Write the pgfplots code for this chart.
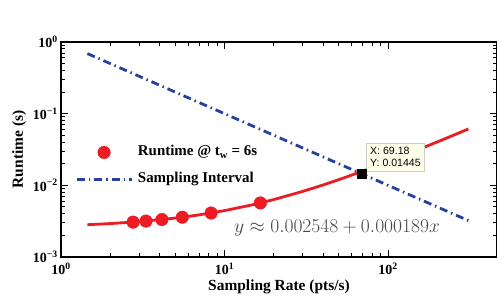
\RequirePackage{fix-cm}
\documentclass[border=0pt]{standalone}
\usepackage{pgfplots}
\pgfplotsset{compat=1.18}
\usepackage{fontspec}
\setmainfont{Liberation Serif}
\newfontfamily\tipfont{Liberation Sans}
\definecolor{myred}{RGB}{237,28,36}
\definecolor{myblue}{RGB}{38,64,160}
\definecolor{tipfill}{RGB}{255,255,234}
\definecolor{tipdraw}{RGB}{205,205,195}
\begin{document}
\begin{tikzpicture}
\path[use as bounding box] (-61bp,-42bp) rectangle (436bp,257bp);
\begin{axis}[
  at={(0,0)}, anchor=south west,
  scale only axis, width=436bp, height=215bp,
  xmode=log, ymode=log,
  xmin=1, xmax=464, ymin=1e-3, ymax=1,
  xtick={1,10,100},
  xticklabels={10\textsuperscript{0},10\textsuperscript{1},10\textsuperscript{2}},
  ytick={0.001,0.01,0.1,1},
  yticklabels={10\textsuperscript{−3},10\textsuperscript{−2},10\textsuperscript{−1},10\textsuperscript{0}},
  minor xtick={2,3,4,5,6,7,8,9,20,30,40,50,60,70,80,90},
  minor ytick={0.002,0.003,0.004,0.005,0.006,0.007,0.008,0.009,0.02,0.03,0.04,0.05,0.06,0.07,0.08,0.09,0.2,0.3,0.4,0.5,0.6,0.7,0.8,0.9},
  tick align=inside,
  major tick length=7bp, minor tick length=4bp,
  axis line style={line width=1.2bp},
  every tick/.style={black, line width=0.9bp},
  ticklabel style={font=\fontsize{14}{16}\selectfont\bfseries},
  xticklabel style={inner sep=0pt, anchor=north, yshift=-6bp},
  yticklabel style={inner sep=0pt, anchor=east, xshift=-3bp},
  xlabel={Sampling Rate (pts/s)},
  ylabel={Runtime (s)},
  label style={font=\fontsize{15.5}{18}\selectfont\bfseries},
  xlabel style={at={(axis description cs:0.5,-0.1535)}, anchor=base, inner sep=0pt},
  ylabel style={at={(axis description cs:-0.0872,0.5)}, anchor=base, inner sep=0pt},
  legend cell align=left,
  legend image code/.code={\draw[mark repeat=2,mark phase=2,#1] plot coordinates {(0bp,0bp) (27.5bp,0bp) (55bp,0bp)};},
  legend style={at={(axis description cs:0.032,0.4235)}, anchor=west, draw=none, fill=none,
    font=\fontsize{15}{18}\selectfont\bfseries, inner sep=0pt, row sep=10bp, column sep=3bp,
    nodes={inner sep=2bp, text height=10bp, text depth=3bp}},
]
\addplot[myred, line width=2.8bp, forget plot] coordinates {
(1.45,0.002822) (2,0.002926) (3,0.003115) (5,0.003493) (7,0.003871) (10,0.004438)
(15,0.005383) (20,0.006328) (30,0.008218) (40,0.010108) (50,0.011998) (70,0.015778)
(100,0.021448) (130,0.027118) (170,0.034678) (220,0.044128) (260,0.051688) (310,0.061138)};
\addplot[only marks, mark=*, mark size=6.3bp, color=myred, mark options={fill=myred, draw=myred}] coordinates {
(2.76,0.00307) (3.31,0.00317) (4.14,0.00333) (5.52,0.00359) (8.28,0.00411) (16.56,0.00568)};
\addlegendentry{Runtime @ t\textsubscript{w} = 6s}
\addplot[myblue, line width=2.8bp, dash pattern=on 8bp off 4bp on 1.5bp off 4bp] coordinates {
(1.45,0.6897) (310,0.003226)};
\addlegendentry{Sampling Interval}
\node[anchor=base, text=black!72, font=\fontsize{19.6}{22}\selectfont] at (axis cs:48.8,0.00223) {$y \approx 0.002548 + 0.000189x$};
\node[anchor=south west, fill=tipfill, draw=tipdraw, line width=0.7bp, font=\tipfont\fontsize{10.6}{12}\selectfont, align=left, inner xsep=4bp, inner ysep=4.5bp, xshift=4bp, yshift=2bp] at (axis cs:69.18,0.01445) {X: 69.18\\Y: 0.01445};
\addplot[only marks, mark=square*, mark size=4.6bp, black, forget plot] coordinates {(69.18,0.01445)};
\end{axis}
\end{tikzpicture}
\end{document}
